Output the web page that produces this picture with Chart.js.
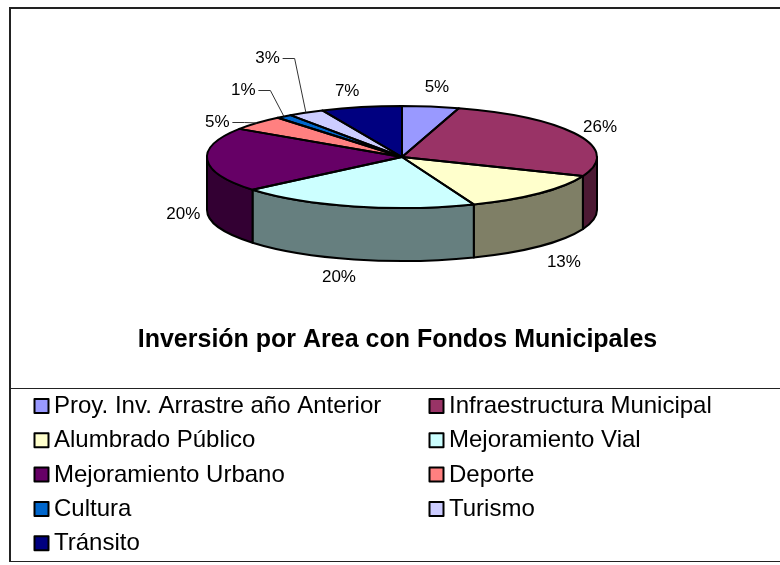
<!DOCTYPE html>
<html>
<head>
<meta charset="utf-8">
<script src="https://cdn.jsdelivr.net/npm/chart.js@4"></script>
<style>
  html, body { margin: 0; padding: 0; background: #fff; }
  canvas { display: block; }
</style>
</head>
<body>
<canvas id="pieChart" width="780" height="565"></canvas>
<script>
const categories = [
  "Proy. Inv. Arrastre año Anterior",
  "Infraestructura Municipal",
  "Alumbrado Público",
  "Mejoramiento Vial",
  "Mejoramiento Urbano",
  "Deporte",
  "Cultura",
  "Turismo",
  "Tránsito",
];
const values = [4.7, 26.4, 12.9, 19.9, 20.4, 4.7, 1.3, 3.0, 6.7];
const colors = ["#9999ff", "#993366", "#ffffcc", "#ccffff", "#660066", "#ff8080", "#0066cc", "#ccccff", "#000080"];
const chartTitle = "Inversión por Area con Fondos Municipales";

// look of the tilted pie
const pieX = 402, pieY = 157, pieRadius = 195, pieRadiusY = 51, pieDepth = 53;
// hand placed label offsets; slices 5-7 also get a leader line
const labelShift = [[2, 0], [-4, 1], [4, 3], [-8, -1], [5, 0], [-18, 12], [-23, -11], [-24, -38], [-8, 3]];
const FONT = '"Liberation Sans", Arial, sans-serif';

function darker(hex) {
  const n = parseInt(hex.slice(1), 16);
  return `rgb(${(n >> 16) >> 1},${((n >> 8) & 255) >> 1},${(n & 255) >> 1})`;
}

const pie3d = {
  id: "pie3d",
  beforeDraw(chart) {
    const c = chart.ctx;
    c.save();
    c.fillStyle = "#fff";
    c.fillRect(0, 0, 780, 565);
    c.strokeStyle = "#222";
    c.lineWidth = 2;
    c.beginPath();
    c.moveTo(780, 8); c.lineTo(10, 8); c.lineTo(10, 562);
    c.stroke();
    c.lineWidth = 1;
    c.beginPath();
    c.moveTo(10, 388.5); c.lineTo(780, 388.5);
    c.moveTo(10, 561.5); c.lineTo(780, 561.5);
    c.stroke();
    c.restore();
  },
  beforeDatasetDraw(chart, args) {
    const c = chart.ctx;
    // side wall first, only the part of each slice that faces the viewer
    args.meta.data.forEach((arc, i) => {
      const a = Math.max(arc.startAngle, 0), b = Math.min(arc.endAngle, Math.PI);
      if (a >= b) return;
      c.beginPath();
      c.ellipse(pieX, pieY, pieRadius, pieRadiusY, 0, a, b);
      c.ellipse(pieX, pieY + pieDepth, pieRadius, pieRadiusY, 0, b, a, true);
      c.closePath();
      c.fillStyle = darker(colors[i]);
      c.fill();
      c.lineWidth = 2;
      c.strokeStyle = "#000";
      c.lineJoin = "round";
      c.stroke();
    });
    // squash the round pie into the top face
    const arc0 = args.meta.data[0];
    c.save();
    c.translate(pieX, pieY);
    c.scale(1, pieRadiusY / pieRadius);
    c.translate(-arc0.x, -arc0.y);
  },
  afterDatasetDraw(chart, args) {
    const c = chart.ctx;
    c.restore();
    c.lineWidth = 2;
    c.strokeStyle = "#000";
    c.lineJoin = "round";
    args.meta.data.forEach((arc) => {
      c.beginPath();
      c.moveTo(pieX, pieY);
      c.ellipse(pieX, pieY, pieRadius, pieRadiusY, 0, arc.startAngle, arc.endAngle);
      c.closePath();
      c.stroke();
    });
  },
  afterDraw(chart) {
    const c = chart.ctx;
    const meta = chart.getDatasetMeta(0);
    const total = values.reduce((s, v) => s + v, 0);

    // percent labels
    c.save();
    c.font = "17px " + FONT;
    c.textAlign = "center";
    c.textBaseline = "middle";
    meta.data.forEach((arc, i) => {
      const mid = (arc.startAngle + arc.endAngle) / 2;
      const sx = Math.cos(mid), sy = Math.sin(mid);
      const x = pieX + 224 * sx + labelShift[i][0];
      const y = pieY + 70 * sy + (sy > 0 ? pieDepth : 0) + labelShift[i][1];
      if (i >= 5 && i <= 7) {
        c.strokeStyle = "#333";
        c.lineWidth = 1;
        c.beginPath();
        c.moveTo(x + 15, Math.round(y) + 0.5);
        c.lineTo(x + 27, Math.round(y) + 0.5);
        c.lineTo(pieX + pieRadius * sx, pieY + pieRadiusY * sy);
        c.stroke();
      }
      c.fillStyle = "#000";
      c.fillText(Math.round((values[i] / total) * 100) + "%", x, y);
    });
    c.restore();

    // legend in two columns
    c.save();
    c.font = "24px " + FONT;
    c.textAlign = "left";
    c.textBaseline = "middle";
    categories.forEach((name, i) => {
      const row = Math.floor(i / 2);
      const x = i % 2 ? 428.5 : 33.5;
      const y = 406 + row * 34.3;
      c.fillStyle = colors[i];
      c.fillRect(x + 1, y - 7, 14, 14);
      c.strokeStyle = "#000";
      c.lineWidth = 2;
      c.strokeRect(x + 1, y - 7, 14, 14);
      c.fillStyle = "#000";
      c.fillText(name, x + 20.5, y + 0.5);
    });
    c.restore();
  },
};

new Chart(document.getElementById("pieChart"), {
  type: "pie",
  data: {
    labels: categories,
    datasets: [{
      data: values,
      backgroundColor: colors,
      borderWidth: 0,
      radius: pieRadius,
      clip: false,
    }],
  },
  options: {
    responsive: false,
    animation: false,
    layout: { padding: { left: 15, right: 0, top: 0, bottom: 210 } },
    plugins: {
      legend: { display: false },
      tooltip: { enabled: false },
      title: {
        display: true,
        text: chartTitle,
        position: "bottom",
        color: "#000",
        font: { family: FONT, size: 25, weight: "bold" },
        padding: { top: 9, bottom: 0 },
      },
    },
  },
  plugins: [pie3d],
});
</script>
</body>
</html>
